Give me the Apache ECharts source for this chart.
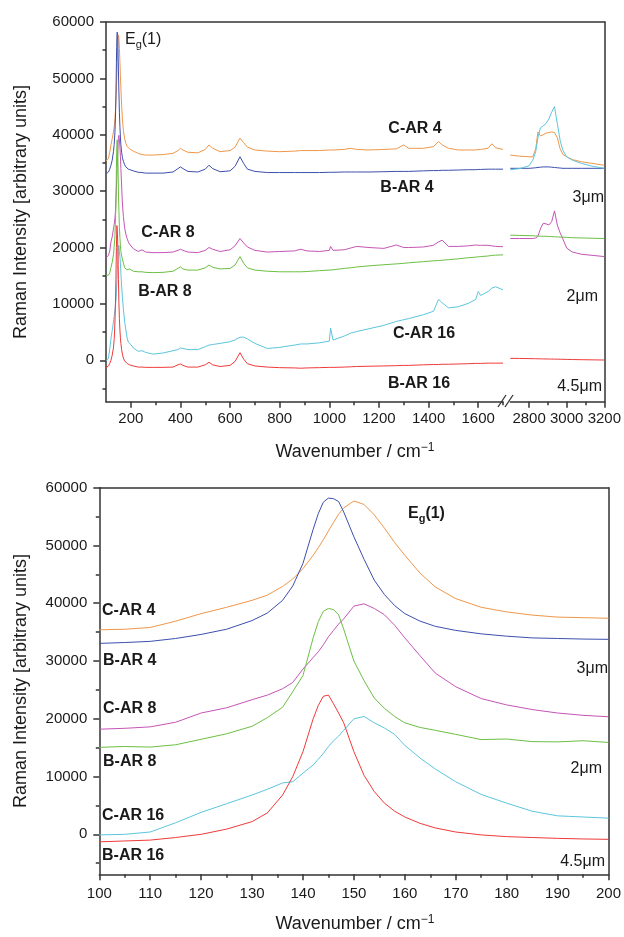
<!DOCTYPE html>
<html>
<head>
<meta charset="utf-8">
<script src="https://cdn.jsdelivr.net/npm/echarts@6/dist/echarts.min.js"></script>
<style>
  html, body { margin: 0; padding: 0; background: #fff; }
  #main { width: 624px; height: 937px; }
</style>
</head>
<body>
<div id="main"></div>
<script>
// wavenumber samples (cm-1)
const lowX = [100, 105, 110, 115, 120, 125, 130, 133, 136, 138, 140, 142, 143, 144, 145, 146, 147, 148, 150, 152, 154, 156, 158, 160, 163, 166, 170, 175, 180, 185, 190, 195, 200];
const midX = [210, 230, 245, 260, 290, 330, 370, 390, 400, 410, 430, 470, 500, 515, 530, 560, 600, 620, 640, 655, 670, 700, 750, 800, 860, 885, 910, 960, 1000, 1005, 1015, 1060, 1085, 1110, 1160, 1220, 1270, 1300, 1320, 1380, 1420, 1440, 1455, 1480, 1520, 1560, 1590, 1600, 1610, 1640, 1655, 1670, 1700];
const highX = [2700, 2750, 2800, 2820, 2835, 2847, 2860, 2875, 2890, 2905, 2920, 2935, 2950, 2965, 2980, 3000, 3030, 3080, 3140, 3200];

// C-AR 4
const cAR4Low = [35400, 35500, 35800, 36900, 38200, 39300, 40500, 41400, 42900, 44200, 46000, 48300, 49600, 51000, 52500, 54000, 55400, 56500, 57700, 57100, 55300, 53000, 50500, 48300, 45200, 42800, 40800, 39300, 38500, 37950, 37600, 37500, 37400];
const cAR4Mid = [37100, 36700, 36500, 36400, 36400, 36500, 36700, 37200, 37600, 37300, 36900, 36800, 37400, 38200, 37600, 37000, 37200, 37800, 39400, 38600, 37800, 37300, 37100, 37000, 37100, 37200, 37200, 37200, 37300, 37300, 37300, 37400, 37600, 37400, 37300, 37400, 37500, 38200, 37600, 37600, 37900, 38800, 38200, 37600, 37300, 37300, 37300, 37400, 37400, 37600, 38400, 37700, 37400];
const cAR4High = [36400, 36200, 36100, 36100, 37500, 40500, 39800, 40000, 40300, 40400, 40500, 40400, 39500, 37500, 36500, 36100, 35600, 35200, 34900, 34600];

// B-AR 4
const bAR4Low = [33050, 33200, 33400, 33900, 34600, 35500, 37000, 38300, 40500, 43000, 46900, 52800, 55500, 57500, 58200, 58100, 57600, 55800, 51500, 47600, 44000, 41500, 39600, 38200, 36900, 36000, 35300, 34700, 34300, 34000, 33900, 33800, 33750];
const bAR4Mid = [33600, 33350, 33300, 33200, 33200, 33200, 33400, 34000, 34300, 34000, 33500, 33400, 33900, 34600, 34000, 33450, 33600, 34400, 36100, 34900, 33900, 33500, 33300, 33300, 33300, 33300, 33300, 33300, 33350, 33350, 33350, 33400, 33400, 33400, 33400, 33450, 33500, 33500, 33500, 33600, 33650, 33650, 33700, 33700, 33750, 33800, 33800, 33850, 33850, 33900, 33900, 33900, 33900];
const bAR4High = [34050, 34050, 34050, 34100, 34150, 34200, 34250, 34300, 34300, 34300, 34250, 34200, 34150, 34100, 34050, 34050, 34050, 34050, 34050, 34050];

// C-AR 8
const cAR8Low = [18200, 18350, 18600, 19400, 21000, 21900, 23300, 24100, 25200, 26300, 28600, 30600, 31600, 32800, 34200, 35300, 36400, 37300, 39500, 39900, 39100, 38000, 36200, 34000, 30900, 27900, 25550, 23500, 22400, 21600, 21000, 20600, 20350];
const cAR8Mid = [19800, 19300, 19600, 19200, 19100, 19100, 19200, 19500, 19700, 19500, 19200, 19100, 19500, 20000, 19700, 19300, 19600, 20300, 21600, 20800, 20100, 19500, 19200, 19300, 19400, 19700, 19400, 19300, 19500, 20200, 19500, 19600, 19900, 20200, 20000, 19850, 20450, 20000, 20000, 20100, 20400, 21000, 21300, 20200, 20200, 20300, 20450, 20400, 20400, 20400, 20300, 20200, 20150];
const cAR8High = [21600, 21600, 21600, 21600, 21700, 22000, 23300, 24300, 24200, 24000, 24600, 26500, 24000, 22600, 21500, 19900, 19200, 18800, 18600, 18400];

// B-AR 8
const bAR8Low = [15060, 15200, 15100, 15500, 16450, 17400, 18700, 20200, 22000, 24700, 27500, 34000, 36800, 38600, 39100, 38900, 38000, 35500, 30000, 26600, 23600, 21800, 20400, 19300, 18500, 18000, 17300, 16400, 16500, 16050, 16000, 16200, 15900];
const bAR8Mid = [15800, 15700, 15700, 15600, 15550, 15600, 15800, 16300, 16600, 16200, 16000, 16000, 16400, 16900, 16500, 16200, 16300, 16900, 18400, 17200, 16400, 16000, 15800, 15700, 15700, 15700, 15750, 15900, 16000, 16000, 16050, 16300, 16400, 16550, 16750, 16950, 17100, 17200, 17300, 17500, 17650, 17700, 17750, 17850, 18000, 18200, 18300, 18350, 18400, 18500, 18600, 18650, 18700];
const bAR8High = [22200, 22150, 22100, 22100, 22050, 22050, 22000, 22000, 22000, 21950, 21950, 21900, 21900, 21850, 21850, 21800, 21750, 21700, 21650, 21600];

// C-AR 16
const cAR16Low = [-100, 0, 400, 2000, 3800, 5300, 6800, 7800, 8900, 9100, 10600, 12000, 13000, 14000, 15200, 16200, 17000, 18000, 20000, 20400, 19300, 18400, 17300, 15400, 13200, 11300, 9100, 6900, 5400, 4000, 3200, 3000, 2800];
const cAR16Mid = [2200, 1600, 1700, 1400, 1100, 1300, 1700, 1900, 2200, 2100, 1900, 1900, 2400, 2700, 2800, 3000, 3300, 3600, 4100, 4100, 3800, 3000, 2100, 2300, 2700, 2900, 2900, 3100, 3400, 5700, 3600, 4300, 4800, 5100, 5600, 6200, 6900, 7200, 7400, 8100, 8700, 10800, 10200, 9300, 9500, 10100, 10800, 12200, 11500, 12200, 12800, 13050, 12500];
const cAR16High = [33800, 34000, 34500, 35500, 37000, 39500, 41200, 41600, 42000, 42800, 44000, 45000, 42000, 39000, 37200, 36100, 35500, 34900, 34400, 34050];

// B-AR 16
const bAR16Low = [-1300, -1150, -1000, -550, 0, 900, 2200, 3700, 6800, 10000, 14300, 20000, 22300, 23900, 24100, 22600, 21000, 19300, 14300, 10200, 7400, 5400, 4000, 3000, 1900, 1100, 400, -100, -400, -550, -700, -800, -870];
const bAR16Mid = [-1000, -1200, -1200, -1250, -1250, -1250, -1200, -800, -650, -900, -1200, -1200, -800, -350, -800, -1100, -900, -200, 1350, 200, -600, -1000, -1200, -1300, -1350, -1400, -1350, -1300, -1250, -1250, -1250, -1200, -1150, -1100, -1050, -1000, -950, -900, -900, -800, -750, -750, -700, -700, -650, -600, -550, -550, -550, -500, -500, -500, -500];
const bAR16High = [350, 330, 300, 290, 280, 270, 260, 250, 240, 230, 220, 210, 200, 190, 180, 160, 140, 110, 80, 50];

// tick values
const yMajor = [0, 10000, 20000, 30000, 40000, 50000, 60000];
const yMinor = [-5000, 5000, 15000, 25000, 35000, 45000, 55000];
const topLeftMajor = [200, 400, 600, 800, 1000, 1200, 1400, 1600];
const topLeftMinor = [300, 500, 700, 900, 1100, 1300, 1500, 1700];
const topRightMajor = [2800, 3000, 3200];
const topRightMinor = [2900, 3100];

const samples = [
  { name: 'C-AR 4', color: '#f0974a', low: cAR4Low, mid: cAR4Mid, high: cAR4High },
  { name: 'B-AR 4', color: '#3c4fae', low: bAR4Low, mid: bAR4Mid, high: bAR4High },
  { name: 'C-AR 8', color: '#c655b6', low: cAR8Low, mid: cAR8Mid, high: cAR8High },
  { name: 'B-AR 8', color: '#6cc044', low: bAR8Low, mid: bAR8Mid, high: bAR8High },
  { name: 'C-AR 16', color: '#5cc6dc', low: cAR16Low, mid: cAR16Mid, high: cAR16High },
  { name: 'B-AR 16', color: '#f03a3a', low: bAR16Low, mid: bAR16Mid, high: bAR16High }
];

const FONT = '"Liberation Sans", Arial, sans-serif';
const AXIS = { lineStyle: { color: '#333', width: 1.5 } };
const TEXT = '#1a1a1a';
const plain = function (v) { return String(v); };

function pairs(xs, ys) {
  return xs.map(function (x, i) { return [x, ys[i]]; });
}

function majorX(grid, min, max, ticks) {
  return {
    type: 'value', gridIndex: grid, min: min, max: max, position: 'bottom',
    axisLine: { show: true, onZero: false, lineStyle: AXIS.lineStyle },
    axisTick: { show: true, length: 6, customValues: ticks, lineStyle: AXIS.lineStyle },
    axisLabel: { customValues: ticks, formatter: plain, hideOverlap: false, showMinLabel: true, showMaxLabel: true,
      color: TEXT, fontSize: 15, fontFamily: FONT, margin: 10 },
    splitLine: { show: false }
  };
}
function minorX(grid, min, max, ticks) {
  return {
    type: 'value', gridIndex: grid, min: min, max: max, position: 'bottom',
    axisLine: { show: false, onZero: false },
    axisTick: { show: true, length: 3.5, customValues: ticks, lineStyle: AXIS.lineStyle },
    axisLabel: { show: false },
    splitLine: { show: false }
  };
}
function majorY(grid, min) {
  return {
    type: 'value', gridIndex: grid, min: min, max: 60000, position: 'left',
    axisLine: { show: true, onZero: false, lineStyle: AXIS.lineStyle },
    axisTick: { show: true, length: 6, customValues: yMajor, lineStyle: AXIS.lineStyle },
    axisLabel: { customValues: yMajor, formatter: plain, showMaxLabel: true,
      color: TEXT, fontSize: 15, fontFamily: FONT, margin: 12 },
    splitLine: { show: false }
  };
}
function minorY(grid, min) {
  return {
    type: 'value', gridIndex: grid, min: min, max: 60000, position: 'left',
    axisLine: { show: false, onZero: false },
    axisTick: { show: true, length: 3.5, customValues: yMinor, lineStyle: AXIS.lineStyle },
    axisLabel: { show: false },
    splitLine: { show: false }
  };
}
function frameY(grid, min) {
  return {
    type: 'value', gridIndex: grid, min: min, max: 60000, position: 'right',
    axisLine: { show: true, onZero: false, lineStyle: AXIS.lineStyle },
    axisTick: { show: false }, axisLabel: { show: false }, splitLine: { show: false }
  };
}

const series = [];
samples.forEach(function (s) {
  const base = { type: 'line', name: s.name, symbol: 'none', animation: false,
    lineStyle: { color: s.color, width: 1 }, itemStyle: { color: s.color } };
  series.push(Object.assign({}, base, { xAxisIndex: 0, yAxisIndex: 0,
    data: pairs(lowX.concat(midX), s.low.concat(s.mid)) }));
  series.push(Object.assign({}, base, { xAxisIndex: 2, yAxisIndex: 2,
    data: pairs(highX, s.high) }));
  series.push(Object.assign({}, base, { xAxisIndex: 4, yAxisIndex: 3,
    data: pairs(lowX, s.low) }));
});

function label(text, x, y, opts) {
  opts = opts || {};
  return {
    type: 'text', silent: true, z: 10,
    rotation: opts.rotation || 0,
    x: x, y: y,
    style: {
      text: text, fill: TEXT,
      fontSize: opts.size || 16, fontFamily: FONT,
      fontWeight: opts.bold ? 'bold' : 'normal',
      align: opts.align || 'center', verticalAlign: 'middle',
      rich: opts.rich
    }
  };
}
const subRich = function (bold) {
  return {
    b: { fontSize: 16, fontFamily: FONT, fontWeight: bold ? 'bold' : 'normal', fill: TEXT },
    s: { fontSize: 11, fontFamily: FONT, fontWeight: bold ? 'bold' : 'normal', fill: TEXT, padding: [9, 0, 0, 0] }
  };
};
const supRich = {
  b: { fontSize: 18, fontFamily: FONT, fill: TEXT },
  p: { fontSize: 12, fontFamily: FONT, fill: TEXT, padding: [0, 0, 9, 0] }
};

const graphic = [
  // top frame line spanning the axis break
  { type: 'line', silent: true, shape: { x1: 106, y1: 22, x2: 605.3, y2: 22 }, style: { stroke: '#333', lineWidth: 1.5 } },
  // break marks
  { type: 'line', silent: true, shape: { x1: 498, y1: 407, x2: 506, y2: 395 }, style: { stroke: '#333', lineWidth: 1.3 } },
  { type: 'line', silent: true, shape: { x1: 505, y1: 407, x2: 513, y2: 395 }, style: { stroke: '#333', lineWidth: 1.3 } },

  label('{b|E}{s|g}{b|(1)}', 125, 40, { align: 'left', rich: subRich(false) }),
  label('C-AR 4', 415, 129, { bold: true }),
  label('B-AR 4', 407, 188, { bold: true }),
  label('3μm', 604, 198, { align: 'right' }),
  label('C-AR 8', 168, 233, { bold: true }),
  label('B-AR 8', 165, 292, { bold: true }),
  label('2μm', 598, 297, { align: 'right' }),
  label('C-AR 16', 424, 334, { bold: true }),
  label('B-AR 16', 419, 384, { bold: true }),
  label('4.5μm', 602, 387, { align: 'right' }),

  label('{b|E}{s|g}{b|(1)}', 408, 514, { align: 'left', bold: true, rich: subRich(true) }),
  label('C-AR 4', 102, 611, { bold: true, align: 'left' }),
  label('B-AR 4', 103, 661, { bold: true, align: 'left' }),
  label('C-AR 8', 103, 709, { bold: true, align: 'left' }),
  label('B-AR 8', 103, 762, { bold: true, align: 'left' }),
  label('C-AR 16', 102, 816, { bold: true, align: 'left' }),
  label('B-AR 16', 102, 856, { bold: true, align: 'left' }),
  label('3μm', 608, 669, { align: 'right' }),
  label('2μm', 602, 769, { align: 'right' }),
  label('4.5μm', 605, 862, { align: 'right' }),

  label('Raman Intensity [arbitrary units]', 21, 212, { size: 18, rotation: Math.PI / 2 }),
  label('Raman Intensity [arbitrary units]', 21, 681, { size: 18, rotation: Math.PI / 2 }),
  label('{b|Wavenumber / cm}{p|−1}', 355, 452, { size: 18, rich: supRich }),
  label('{b|Wavenumber / cm}{p|−1}', 355, 924, { size: 18, rich: supRich })
];

const chart = echarts.init(document.getElementById('main'));
chart.setOption({
  animation: false,
  backgroundColor: '#fff',
  textStyle: { fontFamily: FONT },
  grid: [
    { left: 106, top: 22, width: 397, height: 379.7 },
    { left: 510.3, top: 22, width: 95, height: 379.7 },
    { left: 99.3, top: 487.7, width: 510.7, height: 386.6 }
  ],
  xAxis: [
    majorX(0, 100, 1700, topLeftMajor),
    minorX(0, 100, 1700, topLeftMinor),
    majorX(1, 2700, 3200, topRightMajor),
    minorX(1, 2700, 3200, topRightMinor),
    {
      type: 'value', gridIndex: 2, min: 100, max: 200, interval: 10, position: 'bottom',
      axisLine: { show: true, onZero: false, lineStyle: AXIS.lineStyle },
      axisTick: { show: true, length: 6, lineStyle: AXIS.lineStyle },
      minorTick: { show: true, splitNumber: 2, length: 3.5, lineStyle: { color: '#333', width: 1.5 } },
      axisLabel: { color: TEXT, fontSize: 15, fontFamily: FONT, margin: 12 },
      splitLine: { show: false }, minorSplitLine: { show: false }
    },
    {
      type: 'value', gridIndex: 2, min: 100, max: 200, position: 'top',
      axisLine: { show: true, onZero: false, lineStyle: AXIS.lineStyle },
      axisTick: { show: false }, axisLabel: { show: false }, splitLine: { show: false }
    }
  ],
  yAxis: [
    majorY(0, -7340),
    minorY(0, -7340),
    frameY(1, -7340),
    majorY(2, -6920),
    minorY(2, -6920),
    frameY(2, -6920)
  ],
  series: series,
  graphic: graphic
});
</script>
</body>
</html>
